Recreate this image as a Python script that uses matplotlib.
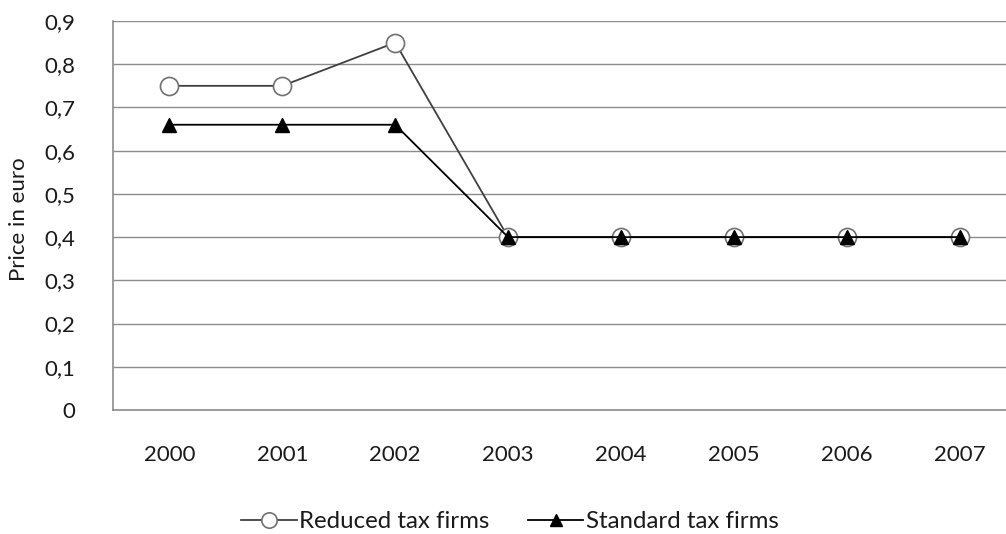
import matplotlib.pyplot as plt

years = ['2000', '2001', '2002', '2003', '2004', '2005', '2006', '2007']
reduced = [0.75, 0.75, 0.85, 0.40, 0.40, 0.40, 0.40, 0.40]
standard = [0.66, 0.66, 0.66, 0.40, 0.40, 0.40, 0.40, 0.40]
yticks = [0, 0.1, 0.2, 0.3, 0.4, 0.5, 0.6, 0.7, 0.8, 0.9]

plt.rcParams['font.family'] = ['Lato', 'DejaVu Sans']

fig = plt.figure(figsize=(10.06, 5.34), dpi=100)
# category axis runs a little past the right edge of the figure
ax = fig.add_axes([113 / 1006, 1 - 410 / 534, 903 / 1006, 389 / 534])

x = range(len(years))
ax.plot(x, reduced, color='#404040', lw=1.3, marker='o', ms=13,
        mfc='white', mec='#707070', mew=1.2, label='Reduced tax firms', zorder=3)
ax.plot(x, standard, color='black', lw=1.3, marker='^', ms=10,
        mfc='black', mec='black', label='Standard tax firms', zorder=4)

ax.set_xlim(-0.5, 7.5)
ax.set_ylim(0, 0.9)
ax.set_yticks(yticks)
ax.set_yticklabels([('%g' % v).replace('.', ',') for v in yticks])
ax.set_xticks(list(x))
ax.set_xticklabels(years)
ax.tick_params(axis='both', length=0, labelsize=16, colors='#1a1a1a')
ax.tick_params(axis='x', pad=25)
ax.tick_params(axis='y', pad=27)

ax.grid(axis='y', color='#8c8c8c', lw=1)
ax.set_axisbelow(True)
for s in ['top', 'right']:
    ax.spines[s].set_visible(False)
for s in ['left', 'bottom']:
    ax.spines[s].set_color('#8c8c8c')
    ax.spines[s].set_linewidth(1.2)

ax.set_ylabel('Price in euro', fontsize=16, color='#1a1a1a')
ax.yaxis.set_label_coords(-84 / 903, 0.49)

fig.legend(loc='center', bbox_to_anchor=(510 / 1006, 1 - 522 / 534), ncol=2,
           frameon=False, fontsize=17.3, handlelength=2.3, columnspacing=1.6,
           handletextpad=0.1, labelcolor='#1a1a1a', markerscale=0.85)

fig.savefig('out.png', dpi=100)
